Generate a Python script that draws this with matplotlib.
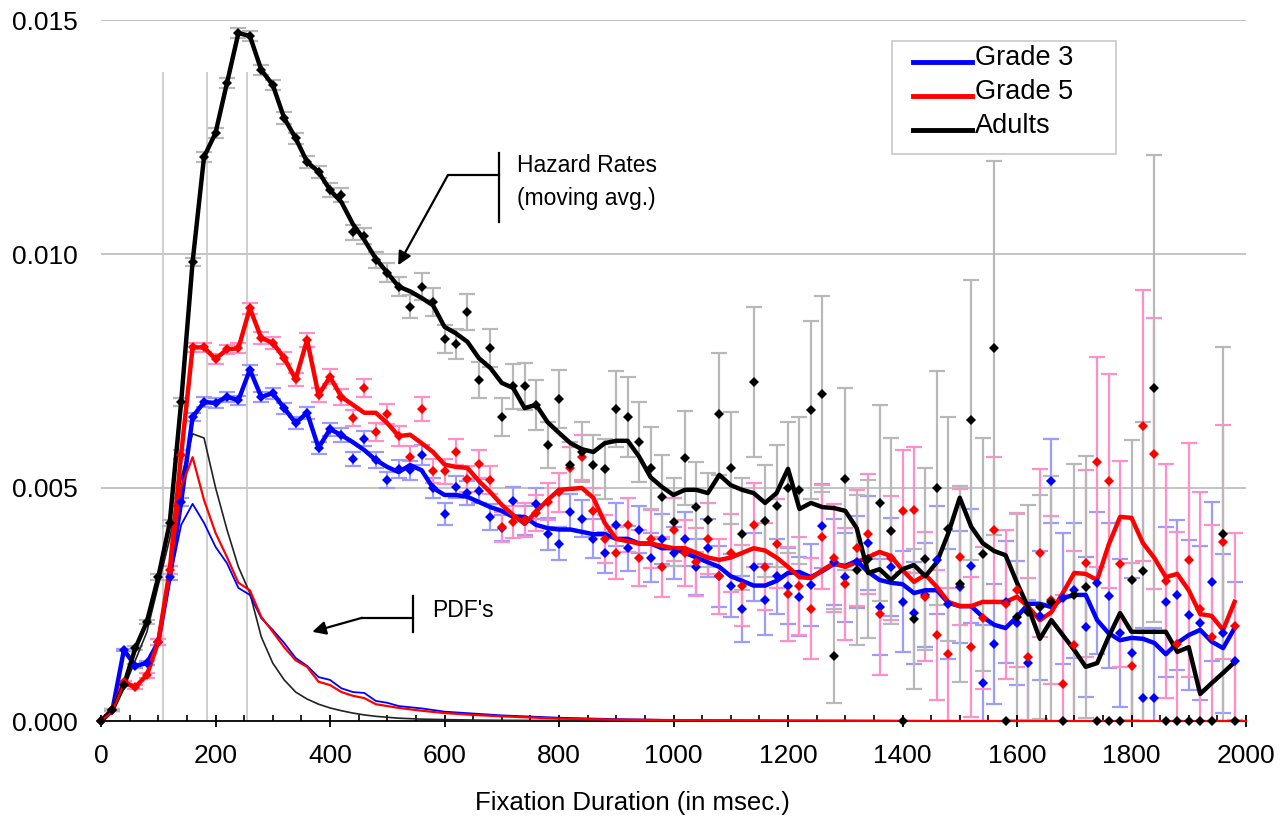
import numpy as np
import matplotlib
matplotlib.use("Agg")
import matplotlib.pyplot as plt
from matplotlib.lines import Line2D
from matplotlib.patches import Rectangle
from matplotlib.ticker import MultipleLocator

plt.rcParams['font.family'] = ['Liberation Sans', 'DejaVu Sans']

# time bins (msec)
t = list(range(0, 2000, 20))

# ---- Adults ----
adult_line = [0, 0.00024, 0.00077, 0.00156, 0.00212, 0.00308, 0.00424, 0.00683, 0.00983, 0.01208,
              0.01259, 0.01366, 0.01473, 0.01467, 0.01394, 0.01362, 0.01291, 0.01248, 0.01197, 0.01176,
              0.01137, 0.01111, 0.01064, 0.0103, 0.0099, 0.0096, 0.0093, 0.0092, 0.00906, 0.0089,
              0.00844, 0.0083, 0.00812, 0.00777, 0.00756, 0.00724, 0.00713, 0.0067, 0.00677, 0.0064,
              0.00617, 0.00595, 0.00582, 0.00576, 0.00595, 0.006, 0.006, 0.00566, 0.00522, 0.00501,
              0.00484, 0.00495, 0.00495, 0.00488, 0.00527, 0.00505, 0.00495, 0.00488, 0.00467, 0.00488,
              0.0054, 0.00454, 0.00467, 0.00458, 0.00456, 0.0045, 0.00413, 0.00317, 0.00325, 0.00302,
              0.00325, 0.00334, 0.0031, 0.0034, 0.00402, 0.00478, 0.00416, 0.00381, 0.00364, 0.00355,
              0.00296, 0.00242, 0.00176, 0.00216, 0.00184, 0.00152, 0.00116, 0.00124, 0.0018, 0.00231,
              0.00191, 0.00191, 0.00191, 0.00191, 0.00148, 0.00158, 0.00058, 0.00081, 0.00103, 0.00126]
adult_pts = [0, 0.00024, 0.00077, 0.00156, 0.00212, 0.00308, 0.00424, 0.00683, 0.00983, 0.01208,
             0.01259, 0.01366, 0.01473, 0.01467, 0.01394, 0.01362, 0.01291, 0.01248, 0.01197, 0.01176,
             0.01137, 0.01126, 0.01047, 0.01039, 0.00987, 0.0096, 0.0093, 0.00887, 0.0093, 0.00897,
             0.00818, 0.00807, 0.00876, 0.0073, 0.00799, 0.00651, 0.00717, 0.00717, 0.00677, 0.00591,
             0.0069, 0.00548, 0.00576, 0.00548, 0.0054, 0.00668, 0.00651, 0.00598, 0.00542, 0.0048,
             0.00426, 0.00563, 0.00458, 0.0043, 0.00657, 0.00542, 0.004, 0.00726, 0.00428, 0.0046,
             0.005, 0.00494, 0.00666, 0.007, 0.00139, 0.00518, 0.00323, 0.00347, 0.00467, 0.00407,
             0, 0.00218, 0.00347, 0.00499, 0.00411, 0.00293, 0.00645, 0.00357, 0.00799, 0,
             0.00223, 0.00233, 0.00244, 0.00255, 0, 0.0027, 0.00287, 0, 0, 0,
             0.00302, 0.00321, 0.00713, 0, 0, 0, 0, 0, 0.004, 0]
adult_err = [0, 0.00002, 0.00003, 0.00004, 0.00005, 0.00006, 0.00007, 0.00008, 0.00009, 0.0001,
             0.0001, 0.0001, 0.0001, 0.0001, 0.00011, 0.00011, 0.00012, 0.00012, 0.00013, 0.00013,
             0.00014, 0.00015, 0.00016, 0.00017, 0.00018, 0.0002, 0.00021, 0.00025, 0.00029, 0.0003,
             0.0003, 0.00032, 0.00039, 0.00039, 0.0004, 0.0004, 0.00048, 0.0005, 0.00053, 0.0005,
             0.00062, 0.0005, 0.00064, 0.00064, 0.00064, 0.00081, 0.00086, 0.00086, 0.00088, 0.0009,
             0.00095, 0.001, 0.00097, 0.001, 0.0013, 0.0012, 0.0012, 0.0016, 0.0012, 0.0013,
             0.0014, 0.00157, 0.0019, 0.0021, 0.001, 0.00195, 0.0016, 0.0017, 0.0021, 0.002,
             0, 0.0015, 0.00195, 0.0025, 0.0024, 0.0021, 0.003, 0.0025, 0.004, 0,
             0.0022, 0.0023, 0.0024, 0.0027, 0, 0.0028, 0.0028, 0, 0, 0,
             0.003, 0.0032, 0.005, 0, 0, 0, 0, 0, 0.004, 0]

# ---- Grade 5 ----
g5_line = [0, 0.00024, 0.00083, 0.00073, 0.00098, 0.00169, 0.00323, 0.0057, 0.008, 0.008,
           0.00775, 0.00796, 0.00798, 0.00884, 0.0082, 0.0081, 0.00777, 0.00732, 0.00816, 0.00698,
           0.00737, 0.00694, 0.00677, 0.0066, 0.0066, 0.00638, 0.0061, 0.00613, 0.00595, 0.00576,
           0.00549, 0.00544, 0.00542, 0.00514, 0.0049, 0.00463, 0.00441, 0.00422, 0.00448, 0.00473,
           0.00495, 0.00497, 0.00499, 0.00478, 0.00424, 0.0039, 0.00385, 0.0038, 0.0038, 0.00375,
           0.0037, 0.0037, 0.0036, 0.0035, 0.00345, 0.0035, 0.0036, 0.0037, 0.00365, 0.0035,
           0.0033, 0.00308, 0.00306, 0.00323, 0.00338, 0.0033, 0.0034, 0.00351, 0.00362, 0.00353,
           0.00323, 0.00298, 0.00313, 0.00287, 0.00255, 0.00246, 0.00246, 0.00255, 0.00255, 0.00255,
           0.00266, 0.00244, 0.00216, 0.00233, 0.00274, 0.00317, 0.00315, 0.00302, 0.00377, 0.00437,
           0.00435, 0.00381, 0.00349, 0.00308, 0.00315, 0.0028, 0.00229, 0.00225, 0.00195, 0.00255]
g5_pts = [0, 0.00024, 0.00083, 0.00073, 0.00098, 0.00169, 0.00323, 0.0057, 0.008, 0.008,
          0.00775, 0.00796, 0.00798, 0.00884, 0.0082, 0.0081, 0.00777, 0.00732, 0.00816, 0.00698,
          0.00737, 0.00694, 0.00649, 0.00713, 0.00619, 0.00657, 0.0061, 0.00565, 0.00668, 0.00535,
          0.00535, 0.00576, 0.00518, 0.0055, 0.00516, 0.00415, 0.00426, 0.0043, 0.00445, 0.0047,
          0.0049, 0.00542, 0.00565, 0.0045, 0.0039, 0.0036, 0.0042, 0.0035, 0.0039, 0.0033,
          0.0041, 0.0036, 0.0034, 0.0039, 0.0031, 0.0036, 0.0029, 0.0042, 0.0033, 0.0038,
          0.00272, 0.00289, 0.0024, 0.00394, 0.00349, 0.00293, 0.0037, 0.004, 0.00229, 0.00349,
          0.0045, 0.00452, 0.00266, 0.00184, 0.00143, 0.00351, 0.00158, 0.0022, 0.00409, 0.0025,
          0.0028, 0.00137, 0.0036, 0.0026, 0.00079, 0.00163, 0.00338, 0.00555, 0.00514, 0.00336,
          0.00118, 0.00632, 0.00572, 0.003, 0.00165, 0.00345, 0.0024, 0.0018, 0.00383, 0.00203]
g5_err = [0, 0.00002, 0.00003, 0.00004, 0.00005, 0.00006, 0.00008, 0.0001, 0.0001, 0.0001,
          0.0001, 0.0001, 0.00011, 0.00012, 0.00012, 0.00013, 0.00013, 0.00014, 0.00015, 0.00015,
          0.00016, 0.00017, 0.00018, 0.0002, 0.0002, 0.00021, 0.00022, 0.00024, 0.00026, 0.00026,
          0.00027, 0.00028, 0.00028, 0.0003, 0.0003, 0.00032, 0.00034, 0.00036, 0.00038, 0.0004,
          0.00042, 0.00045, 0.00048, 0.0005, 0.00052, 0.00055, 0.00058, 0.0006, 0.00062, 0.00065,
          0.00068, 0.0007, 0.00073, 0.00076, 0.0008, 0.00083, 0.00086, 0.0009, 0.00093, 0.00096,
          0.001, 0.00104, 0.00108, 0.00112, 0.00116, 0.0012, 0.00124, 0.00128, 0.0013, 0.00132,
          0.0013, 0.00135, 0.00138, 0.0014, 0.00142, 0.00146, 0.0015, 0.00152, 0.00156, 0.0016,
          0.00165, 0.0017, 0.0018, 0.0018, 0.0019, 0.002, 0.002, 0.00225, 0.0023, 0.0022,
          0.0022, 0.0029, 0.0029, 0.0025, 0.0024, 0.0025, 0.0025, 0.0024, 0.0025, 0.002]

# ---- Grade 3 ----
g3_line = [0, 0.00024, 0.00152, 0.00118, 0.00124, 0.00169, 0.00308, 0.00469, 0.00651, 0.00683,
           0.00681, 0.00694, 0.00687, 0.00752, 0.00694, 0.00702, 0.0067, 0.00638, 0.0066, 0.00585,
           0.00625, 0.00612, 0.00597, 0.0058, 0.00559, 0.00544, 0.00533, 0.00548, 0.00537, 0.00499,
           0.00484, 0.00484, 0.0048, 0.00469, 0.00458, 0.0045, 0.00437, 0.00437, 0.0042, 0.00413,
           0.0041, 0.0041, 0.00405, 0.004, 0.004, 0.0039, 0.0039, 0.0038, 0.0038, 0.0037,
           0.0037, 0.0036, 0.0035, 0.0034, 0.0033, 0.0031, 0.003, 0.0029, 0.0029, 0.003,
           0.00317, 0.00319, 0.00308, 0.00321, 0.00336, 0.00332, 0.00343, 0.00319, 0.00302, 0.00296,
           0.00293, 0.00274, 0.0028, 0.0028, 0.00253, 0.00246, 0.00246, 0.00223, 0.00206, 0.00199,
           0.00223, 0.00251, 0.00251, 0.00244, 0.00263, 0.0027, 0.0027, 0.00216, 0.00188, 0.00173,
           0.00178, 0.00176, 0.00167, 0.00143, 0.00167, 0.00184, 0.00195, 0.0017, 0.00156, 0.00199]
g3_pts = [0, 0.00024, 0.00152, 0.00118, 0.00124, 0.00169, 0.00308, 0.00469, 0.00651, 0.00683,
          0.00681, 0.00694, 0.00687, 0.00752, 0.00694, 0.00702, 0.0067, 0.00638, 0.0066, 0.00585,
          0.00625, 0.00612, 0.00561, 0.00604, 0.00559, 0.00516, 0.0054, 0.00537, 0.0057, 0.00499,
          0.00443, 0.00501, 0.00488, 0.00492, 0.00437, 0.00413, 0.00471, 0.0043, 0.00465, 0.004,
          0.0038, 0.00448, 0.00433, 0.0039, 0.0036, 0.0042, 0.0037, 0.0041, 0.0035, 0.0039,
          0.0036, 0.0039, 0.0033, 0.0037, 0.0031, 0.0029, 0.0024, 0.0033, 0.0026, 0.0031,
          0.00289, 0.00266, 0.00291, 0.00418, 0.0034, 0.00308, 0.0034, 0.00381, 0.00244, 0.0033,
          0.00255, 0.00231, 0.0027, 0.00345, 0.00251, 0.00287, 0.00332, 0.00081, 0.00165, 0.00255,
          0.0021, 0.00124, 0.00225, 0.00514, 0.00263, 0.0028, 0.00201, 0.00296, 0.00268, 0.00188,
          0.00146, 0.00049, 0.00049, 0.00255, 0.0027, 0.00227, 0.0021, 0.00298, 0.00188, 0.00128]
g3_err = [0, 0.00002, 0.00003, 0.00004, 0.00005, 0.00006, 0.00007, 0.00008, 0.00009, 0.0001,
          0.0001, 0.0001, 0.0001, 0.00011, 0.00011, 0.00012, 0.00012, 0.00012, 0.00013, 0.00013,
          0.00014, 0.00015, 0.00016, 0.00016, 0.00017, 0.00018, 0.00019, 0.0002, 0.00021, 0.00022,
          0.00023, 0.00024, 0.00025, 0.00026, 0.00027, 0.00028, 0.0003, 0.00031, 0.00033, 0.00034,
          0.00036, 0.00038, 0.0004, 0.00042, 0.00044, 0.00046, 0.00048, 0.0005, 0.00052, 0.00054,
          0.00056, 0.00058, 0.0006, 0.00062, 0.00065, 0.00068, 0.0007, 0.00073, 0.00076, 0.0008,
          0.00082, 0.00085, 0.00088, 0.0009, 0.00092, 0.00095, 0.00098, 0.001, 0.00102, 0.00105,
          0.00108, 0.0011, 0.00112, 0.00115, 0.00118, 0.0012, 0.00122, 0.00125, 0.00128, 0.0013,
          0.00132, 0.00135, 0.00138, 0.0009, 0.0014, 0.00145, 0.0015, 0.00152, 0.00155, 0.00158,
          0.0016, 0.0015, 0.0015, 0.0016, 0.0016, 0.0016, 0.00165, 0.0017, 0.0017, 0.0017]

# ---- probability density functions ----
pdf_t = [0, 20, 40, 60, 80, 100, 120, 140, 160, 180, 200, 220, 240, 260, 280, 300, 320, 340,
         360, 380, 400, 420, 440, 460, 480, 500, 520, 560, 600, 650, 700, 800, 900, 1000, 1200,
         1500, 2000]
pdf_adult = [0, 0.0002, 0.0007, 0.0013, 0.0019, 0.0029, 0.0039, 0.0052, 0.00615, 0.00606,
             0.005, 0.0041, 0.0033, 0.00274, 0.0018, 0.00124, 0.00088, 0.00062, 0.00047, 0.00036,
             0.00028, 0.00022, 0.00017, 0.00013, 0.0001, 0.00008, 0.00006, 0.00004, 0.00003,
             0.00002, 0.000015, 0.00001, 0.000005, 0, 0, 0, 0]
pdf_g5 = [0, 0.0002, 0.0008, 0.0007, 0.001, 0.0017, 0.0031, 0.005, 0.00565, 0.00473,
          0.00403, 0.00351, 0.00296, 0.0028, 0.00223, 0.00191, 0.00158, 0.0013, 0.00116, 0.00084,
          0.00077, 0.00062, 0.00054, 0.00049, 0.00036, 0.00032, 0.00028, 0.00022, 0.00017,
          0.00013, 0.0001, 0.00005, 0.00003, 0.00002, 0.00001, 0, 0]
pdf_g3 = [0, 0.0002, 0.0015, 0.0012, 0.0012, 0.0017, 0.003, 0.0042, 0.00465, 0.00424,
          0.00373, 0.00338, 0.00285, 0.0027, 0.0022, 0.00195, 0.00167, 0.00135, 0.00118, 0.00094,
          0.00088, 0.0007, 0.00062, 0.0006, 0.00043, 0.00039, 0.00032, 0.00027, 0.0002,
          0.00016, 0.00012, 0.00007, 0.00004, 0.00002, 0.00001, 0, 0]

ref_lines = [108, 185, 255]

series = [
    ("Grade 3", g3_line, g3_pts, g3_err, "#0000ff", "#9c9cff"),
    ("Grade 5", g5_line, g5_pts, g5_err, "#ff0000", "#ff8fc4"),
    ("Adults", adult_line, adult_pts, adult_err, "#000000", "#b8b8b8"),
]

W, H = 1287, 821
fig = plt.figure(figsize=(W / 100, H / 100), dpi=100)
ax = fig.add_axes([101 / W, 100 / H, 1145 / W, 700.5 / H])

ax.set_xlim(0, 2000)
ax.set_ylim(0, 0.015)

# grid
for yv in [0.005, 0.010, 0.015]:
    ax.axhline(yv, color="#c4c4c4", lw=1.4, zorder=0)
ax.vlines(ref_lines, 0, 0.0139, color="#cccccc", lw=1.3, zorder=0)

# error bars
for name, ln, pts, err, col, ecol in series:
    pts_a = np.array(pts)
    err_a = np.array(err)
    m = err_a > 0
    ax.errorbar(np.array(t)[m], pts_a[m], yerr=err_a[m], fmt="none", ecolor=ecol,
                elinewidth=1.6, capsize=5.5, capthick=1.6, zorder=1)

# pdf lines
ax.plot(pdf_t, pdf_adult, color="#222222", lw=1.2, zorder=3)
ax.plot(pdf_t, pdf_g3, color="#0000ff", lw=1.3, zorder=3)

# hazard lines
for name, ln, pts, err, col, ecol in series:
    ax.plot(t, ln, color=col, lw=3.2, solid_joinstyle="round", zorder=4)

ax.plot(pdf_t, pdf_g5, color="#ff0000", lw=1.6, zorder=5, clip_on=False)

# raw hazard points
for name, ln, pts, err, col, ecol in series:
    ax.plot(t, pts, linestyle="none", marker="D", markersize=5.2, color=col,
            markeredgewidth=0, zorder=6, clip_on=False)

# axes style
for s in ["top", "right", "left"]:
    ax.spines[s].set_visible(False)
ax.spines["bottom"].set_linewidth(1.3)
ax.spines["bottom"].set_zorder(2)
ax.xaxis.set_major_locator(MultipleLocator(200))
ax.xaxis.set_minor_locator(MultipleLocator(50))
ax.tick_params(axis="x", which="major", direction="inout", length=9, width=1.3,
               labelsize=19, pad=12)
ax.tick_params(axis="x", which="minor", direction="in", length=4.5, width=1.2)
ax.set_yticks([0, 0.005, 0.010, 0.015])
ax.set_yticklabels(["0.000", "0.005", "0.010", "0.015"])
ax.tick_params(axis="y", length=0, labelsize=19, pad=17)
ax.set_xlabel("Fixation Duration (in msec.)", fontsize=18.5)
ax.xaxis.set_label_coords((632 - 101) / 1145, -(803 - 721) / 700.5)
ax.xaxis.label.set_va("center")

# annotations
ax.plot([695, 695], [0.01216, 0.01069], color="k", lw=1.6)
ax.plot([606, 695], [0.01169, 0.01169], color="k", lw=1.6)
ax.annotate("", xy=(519, 0.00976), xytext=(606, 0.01169),
            arrowprops=dict(arrowstyle="-|>", color="k", lw=1.6, mutation_scale=20,
                            shrinkA=0, shrinkB=0))
ax.text(727, 0.0119, "Hazard Rates", fontsize=16.5, va="center", ha="left")
ax.text(727, 0.01118, "(moving avg.)", fontsize=16.5, va="center", ha="left")

ax.plot([545, 545], [0.00268, 0.00191], color="k", lw=1.6)
ax.plot([456, 545], [0.00221, 0.00221], color="k", lw=1.6)
ax.annotate("", xy=(369, 0.00191), xytext=(456, 0.00221),
            arrowprops=dict(arrowstyle="-|>", color="k", lw=1.6, mutation_scale=20,
                            shrinkA=0, shrinkB=0))
ax.text(578, 0.00236, "PDF's", fontsize=16.5, va="center", ha="left")

# legend, laid out by hand in figure pixels
def fx(px):
    return px / W

def fy(py):
    return 1 - py / H

fig.patches.append(Rectangle((fx(892), fy(154)), (1116 - 892) / W, (154 - 41) / H,
                             transform=fig.transFigure, facecolor="white",
                             edgecolor="#c8c8c8", lw=1.2, zorder=10))
for i, (name, ln, pts, err, col, ecol) in enumerate(series):
    yl = 62 + i * 34
    fig.lines.append(Line2D([fx(913), fx(972)], [fy(yl), fy(yl)], color=col, lw=3.5,
                            transform=fig.transFigure, zorder=11))
    fig.text(fx(975), fy(yl - 4), name, fontsize=19.5, va="center", ha="left", zorder=12)

fig.savefig("out.png", dpi=100)
